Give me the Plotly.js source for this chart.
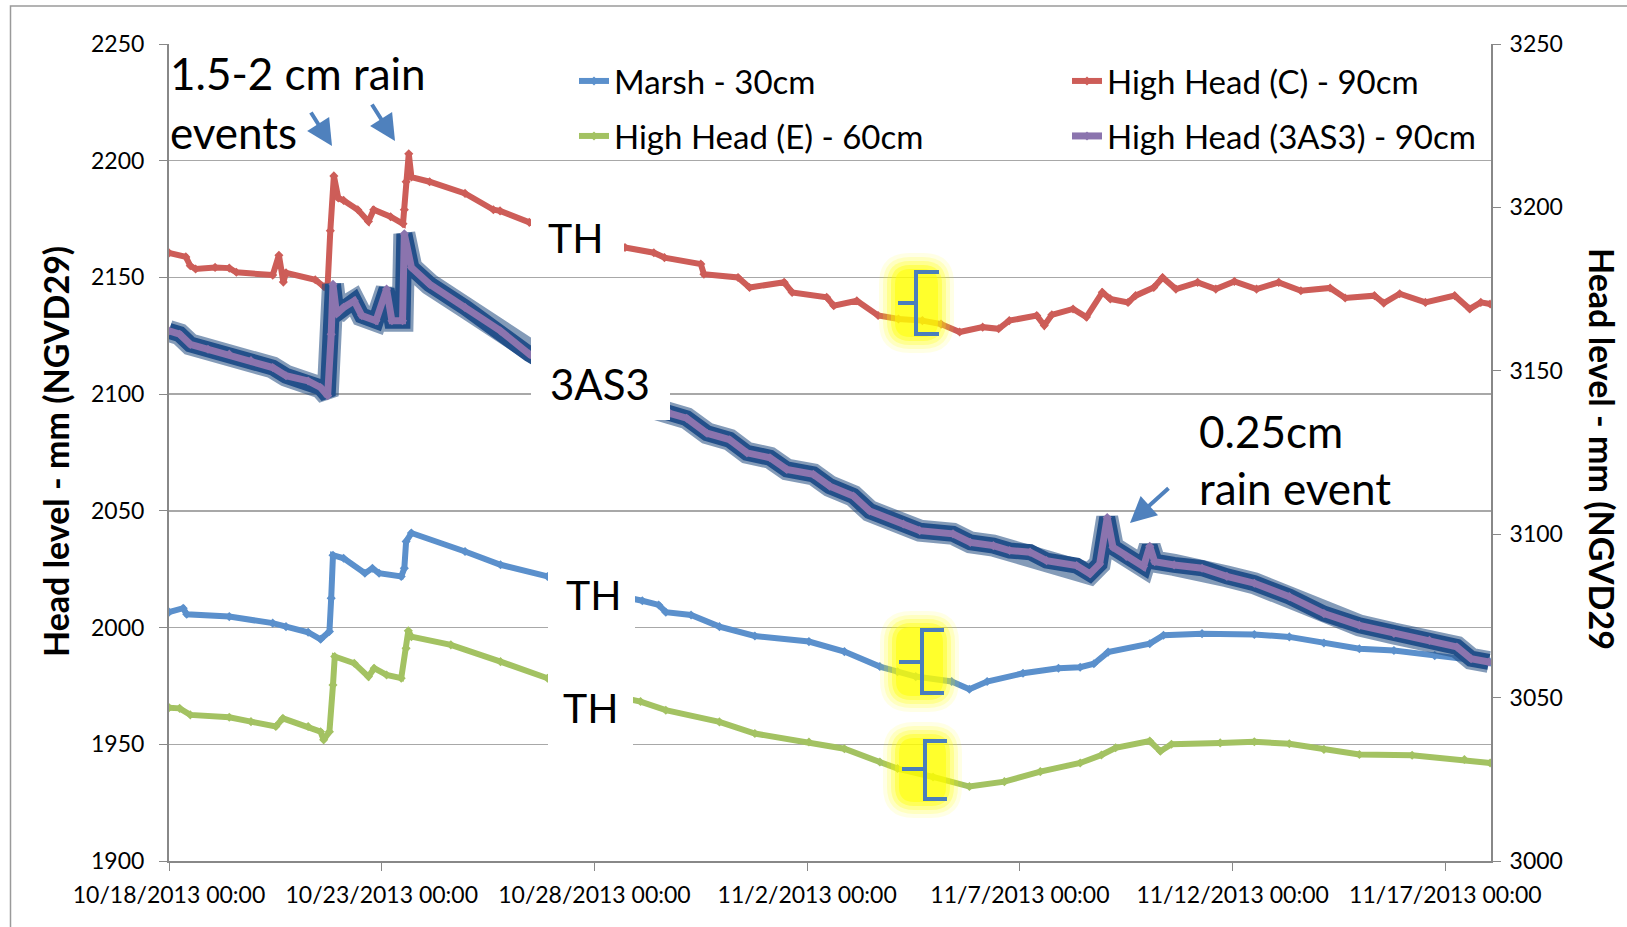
<!DOCTYPE html>
<html>
<head>
<meta charset="utf-8">
<script src="https://cdn.plot.ly/plotly-3.0.1.min.js"></script>
<style>
  html, body { margin: 0; padding: 0; background: #fff; }
  #chart { width: 1627px; height: 927px; }
</style>
</head>
<body>
<div id="chart"></div>
<script>
// head readings, mm NGVD29
var marshTime = ['2013-10-18 00:00','2013-10-18 08:00','2013-10-18 10:00','2013-10-19 10:00','2013-10-20 10:30','2013-10-20 18:00',
  '2013-10-21 06:30','2013-10-21 13:30','2013-10-21 18:30','2013-10-21 19:30','2013-10-21 20:30','2013-10-22 02:30','2013-10-22 14:30',
  '2013-10-22 18:45','2013-10-22 22:30','2013-10-23 11:00','2013-10-23 12:45','2013-10-23 13:45','2013-10-23 16:45','2013-10-24 23:00',
  '2013-10-25 19:00','2013-10-26 21:30','2013-10-27 23:00','2013-10-29 03:00','2013-10-29 12:15','2013-10-29 16:15','2013-10-30 06:30',
  '2013-10-30 22:30','2013-10-31 18:30','2013-11-02 01:00','2013-11-02 21:00','2013-11-03 17:00','2013-11-04 03:00','2013-11-04 13:15',
  '2013-11-05 09:30','2013-11-05 19:30','2013-11-06 05:30','2013-11-07 01:45','2013-11-07 21:45','2013-11-08 10:00','2013-11-08 17:45',
  '2013-11-09 01:45','2013-11-10 01:15','2013-11-10 09:00','2013-11-11 06:45','2013-11-12 12:15','2013-11-13 08:00','2013-11-14 03:30',
  '2013-11-14 23:30','2013-11-15 19:00','2013-11-16 18:00','2013-11-18 01:15'];
var marshHead = [2006.6,2008.3,2005.7,2004.7,2001.9,2000.4,
  1998.0,1995.0,1998.3,2012.6,2031.0,2029.7,2023.3,
  2025.4,2023.3,2021.9,2025.4,2036.9,2040.5,2032.6,
  2026.9,2021.9,2016.0,2011.5,2009.7,2006.6,2005.4,
  2000.4,1996.4,1994.0,1989.7,1983.3,1981.1,1979.0,
  1976.9,1973.6,1976.9,1980.4,1982.6,1983.0,1984.5,
  1989.5,1993.1,1996.7,1997.4,1997.0,1996.0,1993.4,
  1990.9,1990.2,1988.0,1985.2];

var headCTime = ['2013-10-18 00:00','2013-10-18 09:30','2013-10-18 12:00','2013-10-18 15:00','2013-10-19 02:00','2013-10-19 10:00',
  '2013-10-19 14:00','2013-10-20 10:30','2013-10-20 14:00','2013-10-20 16:30','2013-10-20 18:00','2013-10-21 10:30','2013-10-21 15:30',
  '2013-10-21 17:30','2013-10-21 19:00','2013-10-21 21:00','2013-10-21 23:30','2013-10-22 02:30','2013-10-22 10:30','2013-10-22 16:30',
  '2013-10-22 19:30','2013-10-23 05:00','2013-10-23 12:00','2013-10-23 12:45','2013-10-23 13:45','2013-10-23 15:15','2013-10-23 16:45',
  '2013-10-24 03:00','2013-10-24 23:00','2013-10-25 15:00','2013-10-25 18:45','2013-10-26 11:15','2013-10-27 12:00','2013-10-28 17:15',
  '2013-10-29 09:30','2013-10-29 15:30','2013-10-30 12:00','2013-10-30 13:45','2013-10-31 09:00','2013-10-31 15:30','2013-11-01 11:00',
  '2013-11-01 15:30','2013-11-02 11:00','2013-11-02 15:00','2013-11-03 04:00','2013-11-03 16:00','2013-11-04 03:30','2013-11-04 17:00',
  '2013-11-05 03:30','2013-11-05 14:00','2013-11-06 03:00','2013-11-06 12:00','2013-11-06 18:00','2013-11-07 09:30','2013-11-07 13:45',
  '2013-11-07 18:00','2013-11-08 06:00','2013-11-08 13:30','2013-11-08 22:30','2013-11-09 03:00','2013-11-09 13:00','2013-11-09 17:15',
  '2013-11-10 03:30','2013-11-10 08:30','2013-11-10 16:00','2013-11-11 04:15','2013-11-11 14:30','2013-11-12 01:00','2013-11-12 13:30',
  '2013-11-13 02:00','2013-11-13 14:30','2013-11-14 07:00','2013-11-14 15:30','2013-11-15 08:00','2013-11-15 13:15','2013-11-15 22:15',
  '2013-11-16 12:45','2013-11-17 05:15','2013-11-17 13:45','2013-11-17 20:00','2013-11-18 01:15'];
var headCHead = [2160.5,2158.8,2155.0,2153.6,2154.3,2154.0,
  2152.2,2151.0,2159.5,2148.0,2152.0,2149.0,2146.0,
  2147.0,2170.0,2193.5,2184.0,2183.0,2179.0,2174.0,
  2179.0,2176.0,2173.0,2179.0,2191.0,2203.0,2193.0,
  2191.0,2186.0,2179.0,2178.5,2173.6,2168.0,2162.8,
  2160.6,2158.5,2155.7,2151.4,2150.0,2145.7,2147.9,
  2143.6,2141.5,2137.9,2140.0,2133.7,2132.2,2131.5,
  2130.0,2126.6,2128.7,2128.0,2131.5,2133.7,2129.4,
  2134.0,2136.5,2133.0,2143.6,2140.8,2139.3,2142.2,
  2145.7,2150.0,2145.0,2147.9,2145.0,2148.3,2145.0,
  2147.9,2144.3,2145.5,2141.2,2142.2,2139.0,2143.0,
  2139.3,2142.2,2136.5,2139.3,2138.6];

var headETime = ['2013-10-18 00:00','2013-10-18 06:00','2013-10-18 12:00','2013-10-19 10:00','2013-10-19 22:15','2013-10-20 12:15',
  '2013-10-20 16:15','2013-10-21 06:30','2013-10-21 13:30','2013-10-21 15:15','2013-10-21 18:30','2013-10-21 20:30','2013-10-21 21:30',
  '2013-10-22 08:30','2013-10-22 16:30','2013-10-22 19:45','2013-10-23 02:45','2013-10-23 11:00','2013-10-23 13:45','2013-10-23 15:00',
  '2013-10-23 16:45','2013-10-24 15:00','2013-10-25 19:00','2013-10-26 21:30','2013-10-28 00:00','2013-10-29 02:00','2013-10-29 16:15',
  '2013-10-30 22:30','2013-10-31 18:30','2013-11-02 01:00','2013-11-02 21:00','2013-11-03 17:00','2013-11-04 03:00','2013-11-04 23:00',
  '2013-11-05 19:30','2013-11-06 15:15','2013-11-07 11:30','2013-11-08 10:00','2013-11-08 22:00','2013-11-09 06:00','2013-11-10 01:15',
  '2013-11-10 07:15','2013-11-10 13:30','2013-11-11 17:00','2013-11-12 12:15','2013-11-13 08:00','2013-11-14 03:30','2013-11-14 23:30',
  '2013-11-16 05:15','2013-11-17 10:45','2013-11-18 01:15'];
var headEHead = [1965.7,1965.4,1962.6,1961.6,1959.7,1957.6,
  1961.1,1957.6,1955.4,1951.9,1955.4,1975.4,1987.6,
  1984.7,1979.0,1982.6,1979.7,1978.3,1991.1,1998.6,
  1996.1,1992.6,1985.4,1978.3,1972.5,1968.3,1964.6,
  1959.6,1954.6,1951.0,1948.1,1942.4,1939.6,1936.0,
  1931.9,1934.0,1938.3,1942.0,1945.4,1948.5,1951.4,
  1947.0,1950.0,1950.6,1951.1,1950.2,1947.8,1945.6,
  1945.3,1943.5,1942.0];

// 3AS3 sits on the right-hand axis
var as3Time = ['2013-10-18 00:00','2013-10-18 06:00','2013-10-18 12:00','2013-10-18 22:00','2013-10-19 10:00','2013-10-19 22:15',
  '2013-10-20 10:30','2013-10-20 18:00','2013-10-21 06:30','2013-10-21 13:30','2013-10-21 17:30','2013-10-21 19:30','2013-10-21 20:30',
  '2013-10-21 22:30','2013-10-22 02:30','2013-10-22 08:30','2013-10-22 12:45','2013-10-22 20:45','2013-10-23 02:45','2013-10-23 05:45',
  '2013-10-23 11:45','2013-10-23 12:45','2013-10-23 16:45','2013-10-24 03:00','2013-10-24 23:00','2013-10-25 19:00','2013-10-26 11:15',
  '2013-10-27 21:30','2013-10-29 18:30','2013-10-30 04:00','2013-10-30 15:30','2013-10-31 04:15','2013-10-31 14:00','2013-11-01 03:00',
  '2013-11-01 12:30','2013-11-02 03:30','2013-11-02 12:45','2013-11-03 02:00','2013-11-03 11:15','2013-11-04 06:15','2013-11-04 15:30',
  '2013-11-05 10:15','2013-11-05 20:00','2013-11-06 09:00','2013-11-06 18:15','2013-11-07 05:45','2013-11-07 15:00','2013-11-08 08:00',
  '2013-11-08 15:30','2013-11-08 21:00','2013-11-09 01:15','2013-11-09 04:30','2013-11-09 12:00','2013-11-09 21:45','2013-11-10 01:15',
  '2013-11-10 04:00','2013-11-10 15:00','2013-11-11 06:45','2013-11-11 20:45','2013-11-12 12:15','2013-11-13 08:00','2013-11-14 03:30',
  '2013-11-14 23:30','2013-11-15 19:00','2013-11-16 15:00','2013-11-17 06:30','2013-11-17 14:30','2013-11-18 00:30'];
var as3Head = [3162.2,3161.2,3158.1,3156.6,3155.1,3153.1,
  3151.0,3148.5,3146.9,3144.9,3142.4,3161.2,3176.5,
  3167.4,3169.4,3171.4,3166.9,3165.3,3175.0,3165.3,
  3165.3,3191.9,3181.6,3176.5,3169.4,3162.2,3155.1,
  3144.3,3137.0,3135.5,3130.9,3128.9,3124.9,3123.4,
  3119.8,3118.3,3114.7,3111.7,3107.1,3103.1,3101.1,
  3100.1,3097.5,3096.5,3095.0,3094.5,3091.9,3090.4,
  3087.9,3090.9,3105.1,3096.0,3093.2,3090.1,3096.3,
  3091.6,3090.6,3089.6,3087.1,3085.0,3080.9,3075.7,
  3072.1,3069.6,3067.5,3065.5,3061.9,3060.9];

var leftTicks = [1900, 1950, 2000, 2050, 2100, 2150, 2200, 2250];
var rightTicks = [3000, 3050, 3100, 3150, 3200, 3250];
var yTitle = 'Head level - mm (NGVD29)';
var y2Title = 'Head level - mm (NGVD29';

var FONT = 'Lato, "Open Sans", sans-serif';
var M = {l: 169, r: 136, t: 44, b: 66};
var W = 1627 - M.l - M.r, H = 927 - M.t - M.b;
// page pixel -> paper fraction, for the pasted-on notes
function px(x) { return (x - M.l) / W; }
function py(y) { return (927 - M.b - y) / H; }

function series(name, x, y, color, legend) {
  return {
    x: x, y: y, name: name, type: 'scatter', mode: 'lines+markers',
    line: {color: color, width: 6},
    marker: {symbol: 'diamond', size: 7, color: color},
    legend: legend
  };
}

var glowWide = {x: as3Time, y: as3Head, yaxis: 'y2', type: 'scatter', mode: 'lines',
  line: {color: 'rgba(31,73,125,0.55)', width: 22}, showlegend: false, hoverinfo: 'skip'};
var glowCore = {x: as3Time, y: as3Head, yaxis: 'y2', type: 'scatter', mode: 'lines',
  line: {color: '#23508A', width: 16}, showlegend: false, hoverinfo: 'skip'};
var as3 = series('High Head (3AS3) - 90cm', as3Time, as3Head, '#8B74AE', 'legend4');
as3.yaxis = 'y2';
as3.line.width = 7;

var data = [
  series('Marsh - 30cm', marshTime, marshHead, '#5B90CC', 'legend'),
  series('High Head (C) - 90cm', headCTime, headCHead, '#CD5D58', 'legend2'),
  series('High Head (E) - 60cm', headETime, headEHead, '#A3C262', 'legend3'),
  glowWide, glowCore, as3
];

function legendAt(x, y) {
  return {x: px(x), y: py(y), xanchor: 'left', yanchor: 'middle', bgcolor: 'rgba(0,0,0,0)',
    font: {family: FONT, size: 33, color: '#000'}, itemwidth: 30};
}

// white cover boxes with the TH / 3AS3 labels
var boxes = [[531, 624, 195, 262], [531, 670, 330, 420], [548, 635, 555, 640], [548, 633, 665, 752]];
// brace marks: [vertical x, tick end x, stub end x, top y, mid y, bottom y]
var braces = [[916, 898, 939, 272, 303, 334], [922, 899, 944, 630, 662, 693], [925, 902, 947, 741, 769, 799]];

var shapes = [{type: 'rect', xref: 'paper', yref: 'paper', x0: px(10.5), x1: 1.3, y0: -0.3, y1: py(6),
  line: {color: '#9a9a9a', width: 1.5}, fillcolor: 'rgba(0,0,0,0)', layer: 'below'}];
boxes.forEach(function(b) {
  shapes.push({type: 'rect', xref: 'paper', yref: 'paper', x0: px(b[0]), x1: px(b[1]), y0: py(b[3]), y1: py(b[2]),
    fillcolor: '#fff', line: {width: 0}, layer: 'above'});
});

// soft yellow highlight: stacked rounded blobs round each brace
function blob(l, r, t, b, rad) {
  var x0 = px(l), x1 = px(r), yt = py(t), yb = py(b), rx = rad / W, ry = rad / H;
  return 'M' + (x0 + rx) + ',' + yt + ' L' + (x1 - rx) + ',' + yt + ' Q' + x1 + ',' + yt + ' ' + x1 + ',' + (yt - ry) +
    ' L' + x1 + ',' + (yb + ry) + ' Q' + x1 + ',' + yb + ' ' + (x1 - rx) + ',' + yb +
    ' L' + (x0 + rx) + ',' + yb + ' Q' + x0 + ',' + yb + ' ' + x0 + ',' + (yb + ry) +
    ' L' + x0 + ',' + (yt - ry) + ' Q' + x0 + ',' + yt + ' ' + (x0 + rx) + ',' + yt + ' Z';
}
var glowSteps = [[19, 0.1], [15, 0.16], [11, 0.25], [7, 0.38], [3, 0.5]];
braces.forEach(function(b) {
  glowSteps.forEach(function(s) {
    var g = s[0];
    shapes.push({type: 'path', xref: 'paper', yref: 'paper', layer: 'above',
      path: blob(b[1] - g, b[2] + g - 4, b[3] - g, b[5] + g, g + 12),
      fillcolor: 'rgba(255,255,0,' + s[1] + ')', line: {width: 0}});
  });
  var p = 'M' + px(b[2]) + ',' + py(b[3]) + ' L' + px(b[0]) + ',' + py(b[3]) + ' L' + px(b[0]) + ',' + py(b[4]) +
    ' L' + px(b[1]) + ',' + py(b[4]) + ' M' + px(b[0]) + ',' + py(b[4]) + ' L' + px(b[0]) + ',' + py(b[5]) +
    ' L' + px(b[2]) + ',' + py(b[5]);
  shapes.push({type: 'path', xref: 'paper', yref: 'paper', path: p, line: {color: '#4A7EBB', width: 4}, layer: 'above'});
});

function note(text, x, y, size, xanchor) {
  return {text: text, xref: 'paper', yref: 'paper', x: px(x), y: py(y), xanchor: xanchor || 'center', yanchor: 'middle',
    showarrow: false, font: {family: FONT, size: size, color: '#000'}};
}
function arrow(hx, hy, tx, ty) {
  return {text: '', xref: 'paper', yref: 'paper', x: px(hx), y: py(hy), ax: tx - hx, ay: ty - hy,
    showarrow: true, arrowhead: 2, arrowsize: 1.3, arrowwidth: 4, arrowcolor: '#4F81BD'};
}
function axisTitle(text, x, y, angle) {
  return {text: text, xref: 'paper', yref: 'paper', x: px(x), y: py(y), xanchor: 'center', yanchor: 'middle',
    textangle: angle, showarrow: false, font: {family: FONT, size: 34, color: '#000', weight: 'bold'}};
}

var annotations = [
  note('1.5-2 cm rain', 168, 73, 44, 'left'),
  note('events', 168, 132, 44, 'left'),
  note('TH', 576, 237, 41),
  note('3AS3', 600, 384, 42),
  note('TH', 594, 594, 41),
  note('TH', 591, 707, 41),
  note('0.25cm', 1197, 431, 44, 'left'),
  note('rain event', 1197, 488, 44, 'left'),
  arrow(332, 146, 310, 111),
  arrow(395, 141, 371, 103),
  arrow(1130, 523, 1170, 487),
  axisTitle(yTitle, 55, 452, -90),
  axisTitle(y2Title, 1603, 449, 90)
];

var layout = {
  width: 1627, height: 927,
  margin: M,
  paper_bgcolor: '#fff', plot_bgcolor: '#fff',
  font: {family: FONT, size: 23, color: '#000'},
  xaxis: {
    type: 'date', range: ['2013-10-18 00:00', '2013-11-18 01:45'],
    tick0: '2013-10-18 00:00', dtick: 5 * 86400000, tickformat: '%-m/%-d/%Y %H:%M',
    ticks: 'outside', ticklen: 8, tickcolor: '#888', ticklabelstandoff: 4,
    showgrid: false, zeroline: false, showline: true, linecolor: '#888', linewidth: 2,
    tickfont: {family: FONT, size: 23, color: '#000'}
  },
  yaxis: {
    range: [1900, 2250], tickvals: leftTicks, ticks: 'outside', ticklen: 8, tickcolor: '#888',
    ticklabelstandoff: 10,
    showgrid: true, gridcolor: '#a8a8a8', gridwidth: 1.5, zeroline: false,
    showline: true, linecolor: '#888', linewidth: 2,
    tickfont: {family: FONT, size: 23, color: '#000'}
  },
  yaxis2: {
    range: [3000, 3250], tickvals: rightTicks, overlaying: 'y', side: 'right', anchor: 'x',
    ticks: 'outside', ticklen: 8, tickcolor: '#888', ticklabelstandoff: 4,
    showgrid: false, zeroline: false, showline: true, linecolor: '#888', linewidth: 2,
    tickfont: {family: FONT, size: 23, color: '#000'}
  },
  legend: legendAt(574, 81),
  legend2: legendAt(1067, 81),
  legend3: legendAt(574, 136),
  legend4: legendAt(1067, 136),
  shapes: shapes,
  annotations: annotations
};

Plotly.newPlot('chart', data, layout, {displayModeBar: false, staticPlot: true});
</script>
</body>
</html>
